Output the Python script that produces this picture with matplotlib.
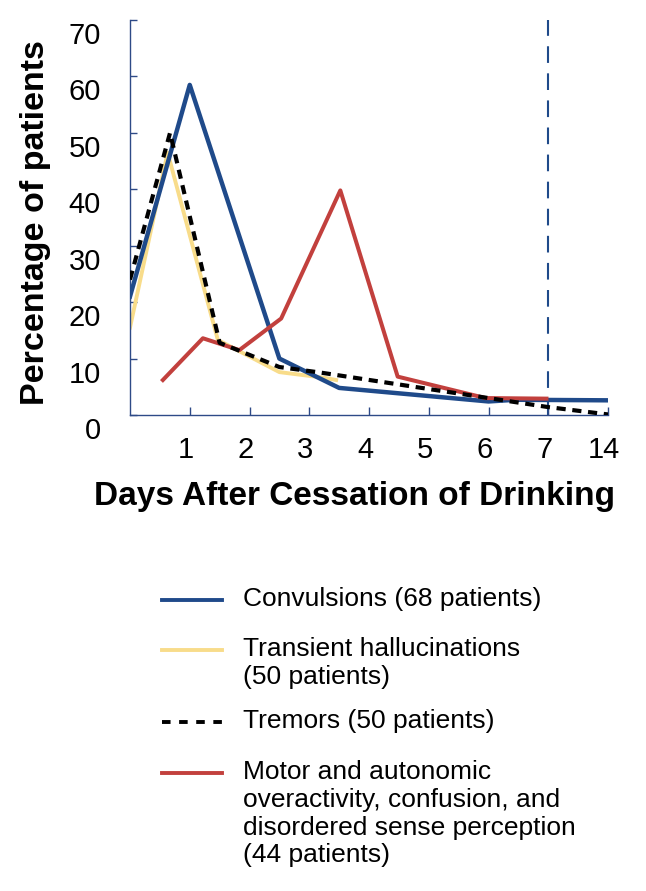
import matplotlib
matplotlib.use("Agg")
import matplotlib.pyplot as plt
import matplotlib.transforms as mtransforms
from matplotlib.lines import Line2D

plt.rcParams["font.family"] = ["Liberation Sans", "DejaVu Sans"]

# ─── data ─────────────────────────────────────────────────────────────────────
# x position: day d sits at d, "14" sits at position 8
TICK_POS    = [1, 2, 3, 4, 5, 6, 7, 8]
TICK_LABELS = ["1", "2", "3", "4", "5", "6", "7", "14"]

conv_x = [0, 1.0, 2.5, 3.5, 6.0, 6.45, 8.0]
conv_y = [21, 58.5, 10, 4.8, 2.4, 2.7, 2.6]

hall_x = [0, 0.63, 1.47, 2.5, 3.25, 3.45]
hall_y = [15.5, 46.5, 13.3, 7.6, 6.6, 6.2]

trem_x = [0, 0.67, 1.5, 2.5, 3.2, 6.0, 7.0, 8.0]
trem_y = [24, 50, 12.8, 8.5, 7.5, 3.0, 1.4, 0.1]

motor_x = [0.55, 1.22, 1.83, 2.53, 3.52, 4.48, 5.95, 6.97]
motor_y = [6.2, 13.6, 11.5, 17.1, 39.8, 6.8, 3.0, 2.9]

C_BLUE   = "#1f4a8a"
C_YELLOW = "#f8dc8a"
C_RED    = "#c2403d"
C_BLACK  = "#000000"
C_AXIS   = "#2e4a87"

LEGEND = [
    ("Convulsions (68 patients)", C_BLUE, "-"),
    ("Transient hallucinations\n(50 patients)", C_YELLOW, "-"),
    ("Tremors (50 patients)", C_BLACK, "--"),
    ("Motor and autonomic\noveractivity, confusion, and\n"
     "disordered sense perception\n(44 patients)", C_RED, "-"),
]

# ─── figure ───────────────────────────────────────────────────────────────────
fig = plt.figure(figsize=(6.46, 8.91), dpi=100, facecolor="white")
ax = fig.add_axes([130 / 646, 1 - 415 / 891, 478 / 646, 395 / 891])

ax.plot(conv_x, conv_y, color=C_BLUE, lw=3.2, zorder=3)
ax.plot(hall_x, hall_y, color=C_YELLOW, lw=2.8, zorder=2)
ax.plot(motor_x, motor_y, color=C_RED, lw=2.9, zorder=3)
ax.plot(trem_x, trem_y, color=C_BLACK, lw=3.0, dashes=(2.2, 1.6), zorder=4)
ax.axvline(7, color=C_BLUE, lw=1.5, dashes=(8, 5), zorder=1)

ax.set_xlim(0, 8)
ax.set_ylim(0, 70)
ax.spines[["top", "right"]].set_visible(False)
ax.spines[["left", "bottom"]].set_color(C_AXIS)
ax.spines[["left", "bottom"]].set_linewidth(1.0)

ax.set_xticks(TICK_POS)
ax.set_xticklabels(TICK_LABELS, fontsize=21)
ax.set_yticks(range(0, 71, 10))
ax.set_yticklabels([str(v) for v in range(0, 71, 10)], fontsize=21)
ax.tick_params(axis="x", direction="in", length=6, width=1, color=C_AXIS, pad=15)
ax.tick_params(axis="y", direction="in", length=5, width=1, color=C_AXIS, pad=21)

# y labels sit a little below their ticks in the original
off = mtransforms.ScaledTranslation(0, -13 / 100, fig.dpi_scale_trans)
for lbl in ax.get_yticklabels():
    lbl.set_transform(lbl.get_transform() + off)
offx = mtransforms.ScaledTranslation(-4 / 100, 0, fig.dpi_scale_trans)
for lbl in ax.get_xticklabels():
    lbl.set_transform(lbl.get_transform() + offx)

fig.text(36 / 646, 1 - 223 / 891, "Percentage of patients", rotation=90,
         fontsize=24.5, fontweight="bold", ha="center", va="center")
fig.text(355 / 646, 1 - 497 / 891, "Days After Cessation of Drinking",
         fontsize=24, fontweight="bold", ha="center", va="center")

# ─── legend drawn by hand (handle aligned to first text line) ─────────────────
rows_y = [600, 650, 722, 773]
for (label, color, ls), y in zip(LEGEND, rows_y):
    yf = 1 - y / 891
    kw = dict(dashes=(2.2, 2.2)) if ls == "--" else {}
    fig.add_artist(Line2D([162 / 646, 222 / 646], [yf, yf], color=color,
                          lw=2.8, transform=fig.transFigure, **kw))
    fig.text(243 / 646, 1 - (y - 13) / 891, label, fontsize=19,
             ha="left", va="top", linespacing=1.2)

fig.savefig("out.png", dpi=100, facecolor="white")
